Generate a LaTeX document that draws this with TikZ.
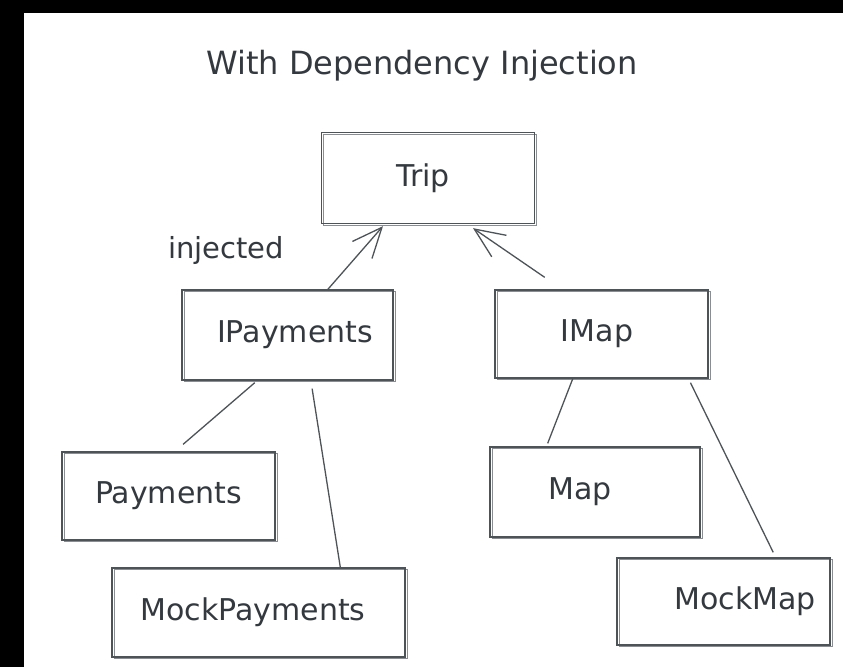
\documentclass[tikz,border=0pt]{standalone}
\usepackage{fontspec}
\setmainfont{DejaVu Sans}
\usetikzlibrary{calc,arrows.meta}
\definecolor{ink}{HTML}{34393F}
\definecolor{strokec}{HTML}{4E5358}
\definecolor{strokelight}{HTML}{8A8E93}
\tikzset{
  sbox/.style={draw=strokec, line width=1.3pt, inner sep=0pt, text=ink,
    font=\fontsize{30}{32}\selectfont, anchor=center,
    preaction={draw=strokelight, line width=1pt,
      transform canvas={xshift=2pt, yshift=-1.6pt}}},
  link/.style={draw=strokec, line width=1.3pt},
  dep/.style={link, -{Straight Barb[length=30pt, width=26pt, line width=1.3pt]}},
  caption/.style={text=ink, inner sep=0pt}
}
\begin{document}
\begin{tikzpicture}[x=1pt, y=-1pt]
  % frame: dark band on the top and left edges
  \fill[black] (0,0) rectangle (843,667);
  \fill[white] (24,13) rectangle (843,667);

  \node[caption, font=\fontsize{32}{34}\selectfont] (title) at (422,66) {With Dependency Injection};
  \node[caption, font=\fontsize{29}{31}\selectfont, anchor=west] (inj) at (168,250) {injected};

  % boxes
  \node[sbox, minimum width=213pt, minimum height=91pt] (trip) at (428,178) {Trip\hspace*{10pt}};
  \node[sbox, minimum width=211pt, minimum height=90pt] (ipay) at (287.5,335) {\hspace*{15pt}IPayments};
  \node[sbox, minimum width=213pt, minimum height=88pt] (imap) at (601.5,334) {IMap\hspace*{9pt}};
  \node[sbox, minimum width=213pt, minimum height=88pt] (pay) at (168.5,496) {Payments};
  \node[sbox, minimum width=210pt, minimum height=90pt] (map) at (595,492) {Map\hspace*{30pt}};
  \node[sbox, minimum width=293pt, minimum height=89pt] (mpay) at (258.5,612.5) {MockPayments\hspace*{11pt}};
  \node[sbox, minimum width=213pt, minimum height=87pt] (mmap) at (723.5,601.5) {\hspace*{43pt}MockMap};

  % injection arrows into Trip
  \draw[dep] ($(ipay.north west)!0.69!(ipay.north east)$) -- ($(trip.south west)!0.29!(trip.south east)+(0,2)$);
  \draw[dep] ($(imap.north west)!0.235!(imap.north east)+(0,-12)$) -- ($(trip.south west)!0.71!(trip.south east)+(0,4)$);

  % implementations
  \draw[link] ($(ipay.south west)!0.346!(ipay.south east)+(0,2)$) -- ($(pay.north west)!0.568!(pay.north east)+(0,-7)$);
  \draw[link] ($(ipay.south west)!0.616!(ipay.south east)+(0,8)$) -- ($(mpay.north west)!0.778!(mpay.north east)$);
  \draw[link] ($(imap.south west)!0.366!(imap.south east)$) -- ($(map.north west)!0.276!(map.north east)+(0,-3)$);
  \draw[link] ($(imap.south west)!0.915!(imap.south east)+(0,4)$) -- ($(mmap.north west)!0.732!(mmap.north east)+(0,-5)$);
\end{tikzpicture}
\end{document}
